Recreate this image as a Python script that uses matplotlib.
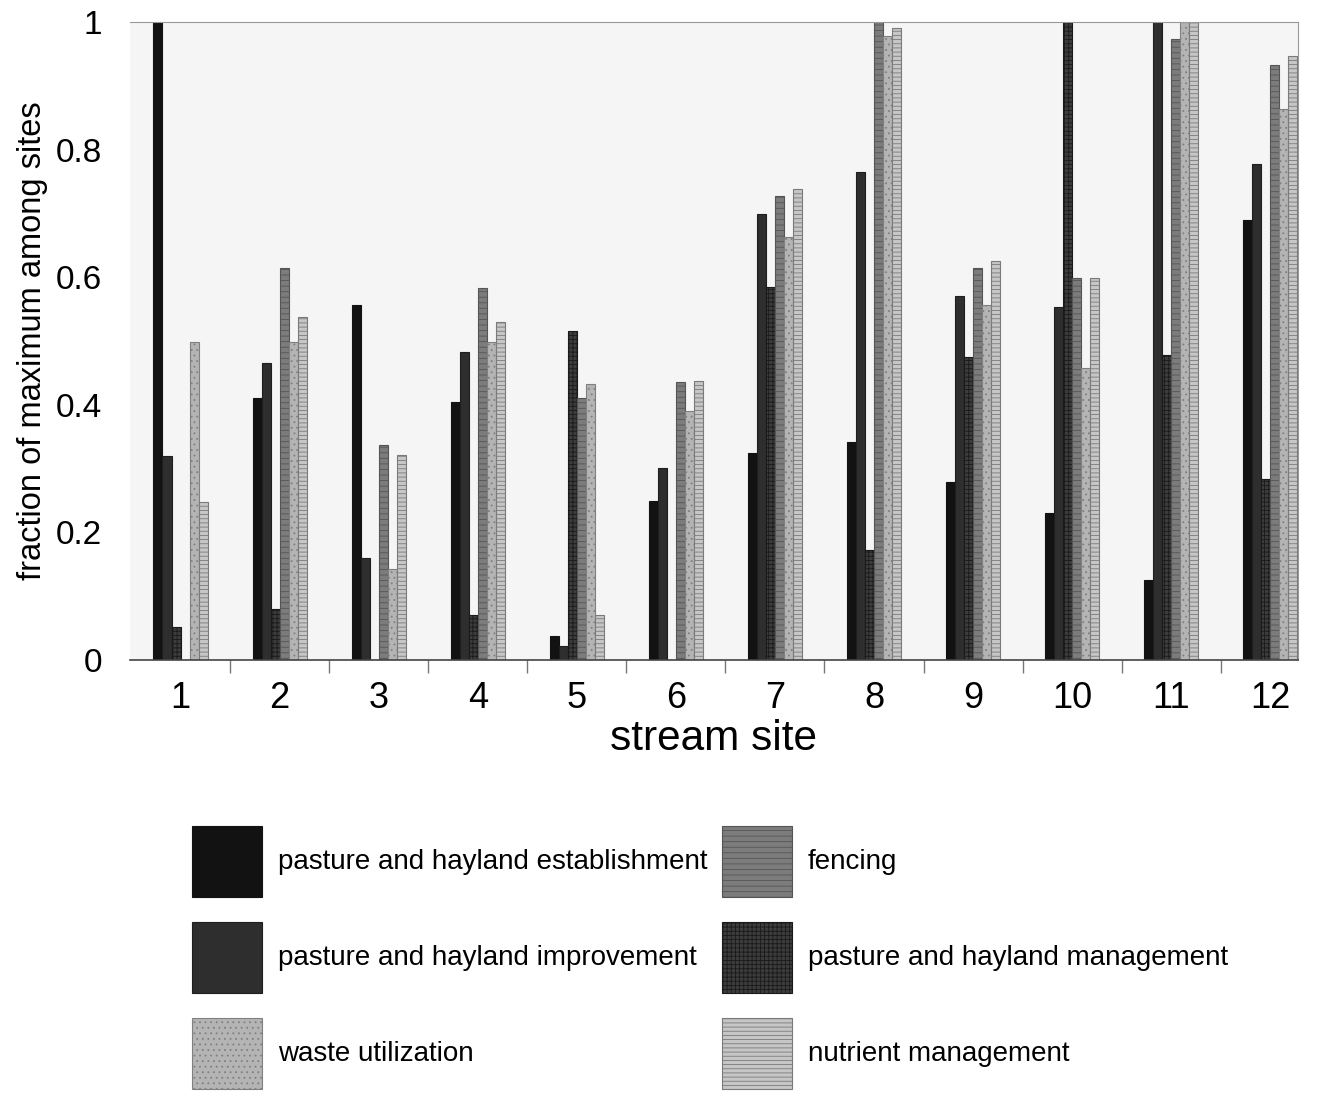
import numpy as np
import matplotlib
matplotlib.use('Agg')
import matplotlib.pyplot as plt

plt.rcParams['font.family'] = ['Liberation Sans', 'DejaVu Sans']
plt.rcParams['hatch.linewidth'] = 0.6

sites = ['1', '2', '3', '4', '5', '6', '7', '8', '9', '10', '11', '12']

# values, bars in the order they stand in each group
establishment = [1.0, 0.41, 0.556, 0.404, 0.037, 0.25, 0.325, 0.342, 0.279, 0.23, 0.125, 0.69]
improvement = [0.32, 0.466, 0.16, 0.482, 0.022, 0.301, 0.699, 0.765, 0.571, 0.554, 1.0, 0.778]
management = [0.052, 0.08, 0.0, 0.07, 0.516, 0.0, 0.585, 0.172, 0.475, 1.0, 0.478, 0.284]
fencing = [0.0, 0.614, 0.337, 0.583, 0.41, 0.436, 0.727, 1.0, 0.614, 0.598, 0.973, 0.932]
waste = [0.498, 0.499, 0.143, 0.499, 0.432, 0.391, 0.663, 0.978, 0.556, 0.458, 1.0, 0.863]
nutrient = [0.248, 0.537, 0.321, 0.53, 0.071, 0.438, 0.739, 0.99, 0.626, 0.598, 1.0, 0.946]

series = [
    ('pasture and hayland establishment', establishment, '#121212', None, '#121212'),
    ('pasture and hayland improvement', improvement, '#2e2e2e', None, '#1e1e1e'),
    ('pasture and hayland management', management, '#3c3c3c', '++++', '#1a1a1a'),
    ('fencing', fencing, '#7c7c7c', '---', '#555555'),
    ('waste utilization', waste, '#b4b4b4', '...', '#808080'),
    ('nutrient management', nutrient, '#c6c6c6', '----', '#7a7a7a'),
]
legend_order = ['pasture and hayland establishment', 'pasture and hayland improvement',
                'waste utilization', 'fencing', 'pasture and hayland management',
                'nutrient management']

fig = plt.figure(figsize=(13.25, 10.94), dpi=100)
W, H = 1325, 1094
ax = fig.add_axes([130 / W, (H - 660) / H, (1298 - 130) / W, (660 - 22) / H])
ax.set_facecolor('#f5f5f5')

x = np.arange(1, len(sites) + 1)
width = 0.091
handles = {}
for i, (name, vals, col, hatch, edge) in enumerate(series):
    b = ax.bar(x + (i - 2.5) * width, vals, width, color=col, hatch=hatch,
               edgecolor=edge, linewidth=0.8, label=name)
    handles[name] = b

ax.set_xlim(0.49, 12.28)
ax.set_ylim(0, 1)
ax.set_xticks(x)
ax.set_xticklabels(sites, fontsize=26)
ax.set_xticks(x[:-1] + 0.5, minor=True)
ax.tick_params(axis='x', which='major', length=0, pad=15)
ax.tick_params(axis='x', which='minor', length=9, width=1, color='#777777', direction='out')
ax.set_yticks([0, 0.2, 0.4, 0.6, 0.8, 1.0])
ax.set_yticklabels(['0', '0.2', '0.4', '0.6', '0.8', '1'], fontsize=24)
ax.tick_params(axis='y', length=0, pad=20)

ax.spines['left'].set_visible(False)
ax.spines['top'].set_color('#999999')
ax.spines['right'].set_color('#999999')
ax.spines['bottom'].set_color('#444444')
ax.spines['bottom'].set_linewidth(1.2)

ax.set_xlabel('stream site', fontsize=30.5, labelpad=2)
ax.set_ylabel('fraction of maximum among sites', fontsize=23.5, labelpad=6)

fig.legend([handles[n] for n in legend_order], legend_order, ncol=2,
           loc='upper left', bbox_to_anchor=(192 / W, 1 - 826 / H),
           frameon=False, fontsize=20, handlelength=2.52, handleheight=3.55,
           labelspacing=0.9, handletextpad=0.58, columnspacing=0.5,
           borderpad=0, borderaxespad=0)

fig.savefig('out.png', dpi=100)
